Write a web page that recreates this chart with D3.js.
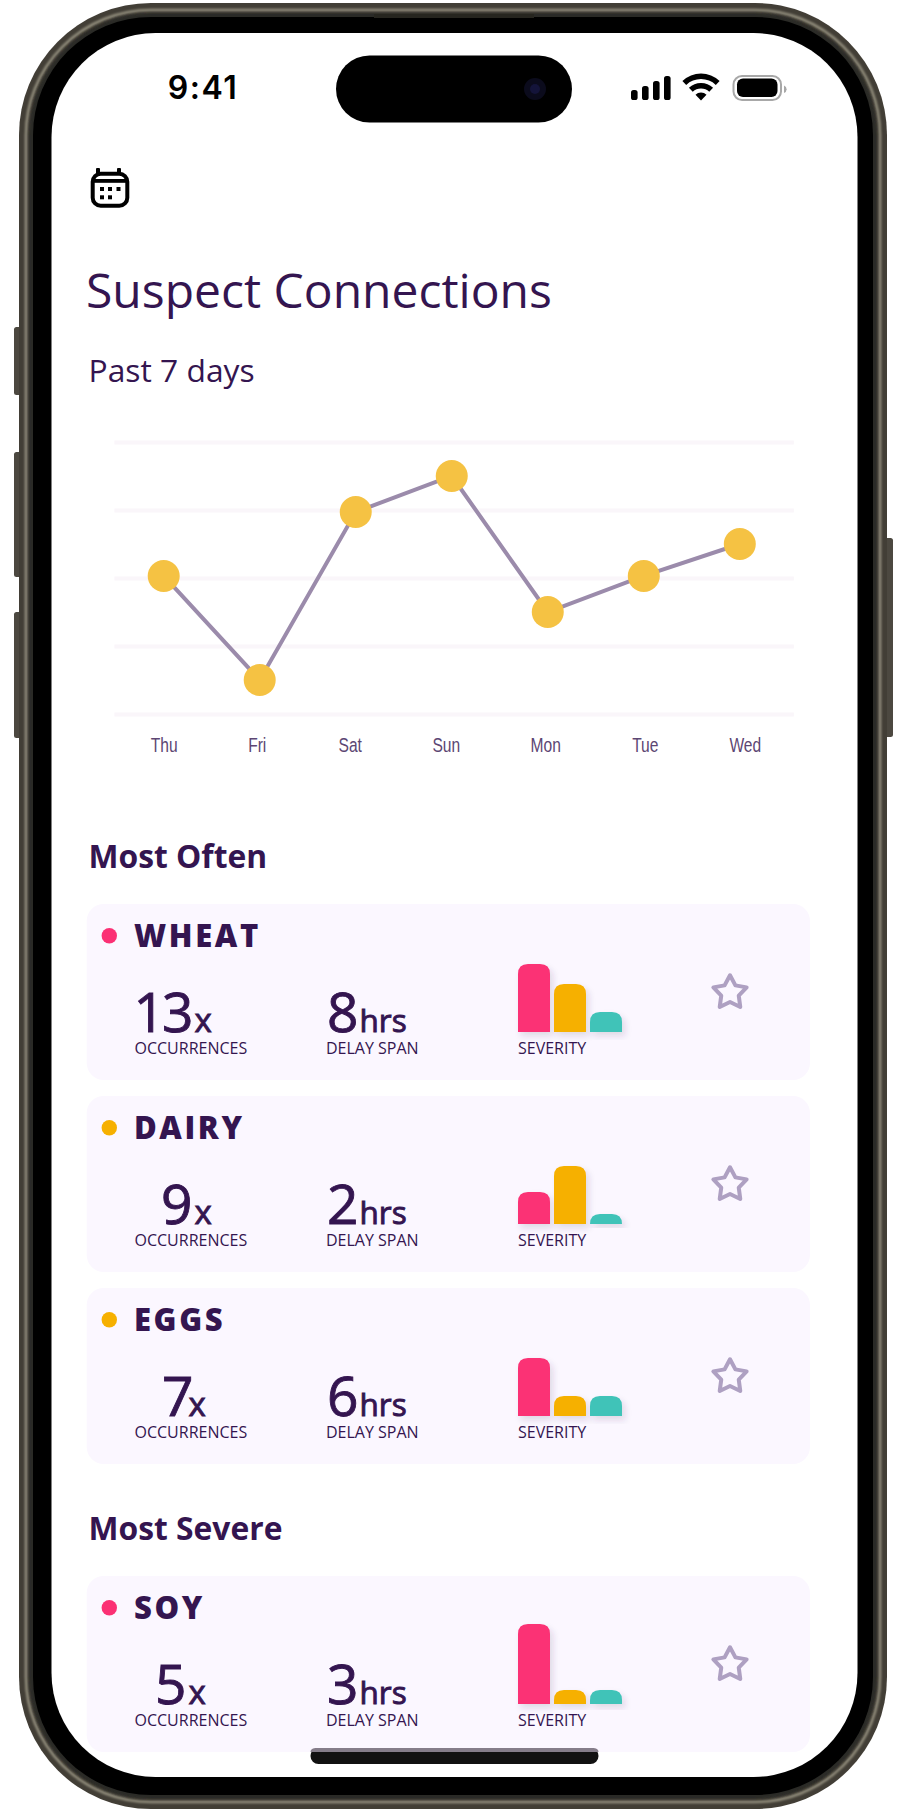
<!DOCTYPE html>
<html><head><meta charset="utf-8">
<script src="https://cdn.jsdelivr.net/npm/d3@7"></script>
<style>
html,body{margin:0;padding:0;background:#fff}
svg{display:block}
text{font-family:"Open Sans",sans-serif;fill:#341550}
</style></head><body>
<div id="chart"></div>
<script>
// ---- data ----
const days = ["Thu","Fri","Sat","Sun","Mon","Tue","Wed"];
const connections = [2.03,0.5,2.97,3.5,1.5,2.03,2.5];
const gridLevels = [0,1,2,3,4];
const foods = ["WHEAT","DAIRY","EGGS","SOY"];
const occurrences = [13,9,7,5];
const delayHours = [8,2,6,3];
const dotLevel = ["high","mid","mid","high"];
const severityLevels = ["high","mid","low"];
const severityHigh = [6.8,3.2,5.8,8];
const severityMid = [4.8,5.8,2,1.4];
const severityLow = [2,1,2,1.4];
const sectionTitles = ["Most Often","Most Severe"];

// ---- layout and style ----
const W=906,H=1812;
const levelColor={high:"#fb3074",mid:"#f6b000",low:"#40c3b8"};
const cardTops=[904,1096,1288,1576];
const numberShift=[0,-1,0,-7];
const unitShift=[0,0,-6,-6];
const labelNudge=[0,-3,-6,-6,-2.5,1,5];
const labelSqueeze=.8;

const svg=d3.select("#chart").append("svg").attr("width",W).attr("height",H).attr("viewBox",`0 0 ${W} ${H}`);
const defs=svg.append("defs");
const blur=(id,s)=>defs.append("filter").attr("id",id).attr("x","-5%").attr("y","-5%").attr("width","110%").attr("height","110%").append("feGaussianBlur").attr("stdDeviation",s);
blur("soft",1.1); blur("soft2",.5);
const sh=defs.append("filter").attr("id","barShadow").attr("x","-30%").attr("y","-30%").attr("width","170%").attr("height","170%");
sh.append("feDropShadow").attr("dx",3).attr("dy",4).attr("stdDeviation",3).attr("flood-color","#3a2060").attr("flood-opacity",.15);

// ---- phone body ----
const frame=svg.append("g");
const btn=[[14,327,68],[14,452,125],[14,612,126],[880,538,199]];
frame.selectAll("rect.btn").data(btn).join("rect").attr("class","btn")
  .attr("x",d=>d[0]).attr("y",d=>d[1]).attr("width",13).attr("height",d=>d[2]).attr("rx",2.5)
  .attr("fill","#4c4840");
const rr=(inset,r)=>frame.append("rect").attr("x",19+inset).attr("y",3+inset).attr("width",868-2*inset).attr("height",1806-2*inset).attr("rx",r).attr("ry",r);
rr(0,132).attr("fill","#423e36");
rr(7,125).attr("fill","none").attr("stroke","#94907f").attr("stroke-width",2.5).attr("filter","url(#soft)");
rr(10,122).attr("fill","#2c2a25").attr("filter","url(#soft)");
rr(14,118).attr("fill","#000");
frame.append("rect").attr("x",51.5).attr("y",33).attr("width",806).attr("height",1744).attr("rx",104).attr("fill","#fff").attr("filter","url(#soft2)");
frame.append("rect").attr("x",374).attr("y",14).attr("width",160).attr("height",4).attr("fill","#26251f");

// ---- status bar ----
const island=svg.append("g");
island.append("rect").attr("x",336).attr("y",55.5).attr("width",236).attr("height",67).attr("rx",33.5).attr("fill","#000");
island.append("circle").attr("cx",535).attr("cy",89).attr("r",11).attr("fill","#0b0b1c");
island.append("circle").attr("cx",535).attr("cy",89).attr("r",5).attr("fill","#14143a");
svg.append("text").attr("x",203).attr("y",99).attr("text-anchor","middle")
  .style("font-family","Inter,Roboto,sans-serif").style("font-weight",600).style("letter-spacing","1.5px").style("font-size","32px").style("fill","#000").text("9:41");
const signalH=[10,14,19,24];
svg.append("g").selectAll("rect").data(signalH).join("rect")
  .attr("x",(d,i)=>631+i*11).attr("y",d=>100-d).attr("width",6.6).attr("height",d=>d).attr("rx",2.6).attr("fill","#000");
const wifi=svg.append("g").attr("transform","translate(701,100.5)");
const arcGen=d3.arc().startAngle(-0.76).endAngle(0.76);
[[0,8],[12,17.5],[21.5,27]].forEach(([a,b])=>{
  wifi.append("path").attr("d",arcGen({innerRadius:a,outerRadius:b})).attr("fill","#000");
});
svg.append("rect").attr("x",733.5).attr("y",76).attr("width",47.5).attr("height",24).attr("rx",8.5).attr("fill","#fff").attr("stroke","#a8a8a8").attr("stroke-width",2);
svg.append("rect").attr("x",737).attr("y",78.5).attr("width",40.5).attr("height",18.5).attr("rx",6).attr("fill","#000");
svg.append("path").attr("d","M784 85.5 a4 4 0 0 1 0 7.5z").attr("fill","#a8a8a8");

// ---- calendar icon ----
const cal=svg.append("g");
cal.append("rect").attr("x",92.7).attr("y",173.7).attr("width",34.6).attr("height",32).attr("rx",8).attr("fill","#fff").attr("stroke","#000").attr("stroke-width",4);
cal.append("rect").attr("x",92.7).attr("y",179).attr("width",34.6).attr("height",3.8).attr("fill","#000");
cal.selectAll("rect.ear").data([98,119]).join("rect").attr("class","ear").attr("x",d=>d-2).attr("y",168).attr("width",4).attr("height",7).attr("rx",1).attr("fill","#000");
cal.selectAll("rect.dot").data([[100,187],[108,187],[116.5,187],[100,195.3],[108,195.3]]).join("rect").attr("class","dot")
  .attr("x",d=>d[0]).attr("y",d=>d[1]).attr("width",4).attr("height",4).attr("fill","#000");

// ---- titles ----
svg.append("text").attr("x",86).attr("y",307.5).style("font-size","48px").style("font-weight",400).text("Suspect Connections");
svg.append("text").attr("x",88.5).attr("y",381.5).style("font-size","31.8px").style("font-weight",400).text("Past 7 days");

// ---- line chart ----
const x=d3.scalePoint().domain(days).range([163.7,739.8]);
const y=d3.scaleLinear().domain([0,4]).range([714,442]);
const gridG=svg.append("g").attr("transform","translate(114.4,0)")
  .call(d3.axisLeft(y).tickValues(gridLevels).tickSize(-679.5).tickFormat(""));
gridG.select(".domain").remove();
gridG.selectAll("line").attr("stroke","#faf6fa").attr("stroke-width",4);

const axisG=svg.append("g").attr("transform","translate(0,732)")
  .call(d3.axisBottom(x).tickSize(0).tickPadding(0));
axisG.select(".domain").remove();
axisG.selectAll("text")
  .attr("y",20).attr("dy",0)
  .attr("transform",(d,i)=>`translate(${labelNudge[i]},0) scale(${labelSqueeze},1)`)
  .style("font-family","'Liberation Sans',sans-serif")
  .style("font-size","19.5px").style("fill","#5c4673");

const points=days.map((d,i)=>({day:d,v:connections[i]}));
svg.append("path").datum(points).attr("fill","none").attr("stroke","#9b8bab").attr("stroke-width",4)
  .attr("d",d3.line().x(d=>x(d.day)).y(d=>y(d.v)));
svg.append("g").selectAll("circle").data(points).join("circle")
  .attr("cx",d=>x(d.day)).attr("cy",d=>y(d.v)).attr("r",16).attr("fill","#f5c243");

// ---- section headings ----
svg.selectAll("text.sec").data(sectionTitles).join("text").attr("class","sec")
  .attr("x",88.5).attr("y",(d,i)=>[867.5,1539.5][i]).style("font-size","31.8px").style("font-weight",700).text(d=>d);

// ---- cards ----
const barX=d3.scaleBand().domain(severityLevels).range([518,622]).paddingInner(4/36);
const barH=d3.scaleLinear().domain([0,8]).range([0,80]);
const starPts=d3.range(10).map(i=>[i*Math.PI/5,i%2?9.2:17.5]);
const star=d3.lineRadial().curve(d3.curveLinearClosed)(starPts);
const topRounded=(x0,w,h,base,r)=>{
  const rad=Math.min(r,h,w/2);
  return `M${x0},${base}V${base-h+rad}Q${x0},${base-h} ${x0+rad},${base-h}H${x0+w-rad}Q${x0+w},${base-h} ${x0+w},${base-h+rad}V${base}Z`;
};
const thicken=s=>s.style("stroke","#341550").style("stroke-width",".9px");
foods.forEach((food,i)=>{
  const g=svg.append("g").attr("transform",`translate(0,${cardTops[i]})`);
  g.append("rect").attr("x",86.7).attr("width",723.3).attr("height",176).attr("rx",17).attr("fill","#fbf7ff");
  g.append("circle").attr("cx",109.3).attr("cy",31.7).attr("r",7.7).attr("fill",levelColor[dotLevel[i]]);
  g.append("text").attr("x",134).attr("y",43.3).style("font-size","31px").style("font-weight",800).style("letter-spacing","2.6px").text(food);
  thicken(g.append("text").attr("x",190.5+numberShift[i]).attr("y",128).attr("text-anchor","end").style("font-size","55px").style("font-weight",500).style("letter-spacing","-3px").text(occurrences[i]));
  thicken(g.append("text").attr("x",194.5+unitShift[i]).attr("y",128).style("font-size","33px").style("font-weight",500).text("x"));
  thicken(g.append("text").attr("x",327).attr("y",128).style("font-size","55px").style("font-weight",500).text(delayHours[i]));
  thicken(g.append("text").attr("x",359.5).attr("y",128).style("font-size","31.5px").style("font-weight",500).text("hrs"));
  g.append("text").attr("x",134.5).attr("y",150).style("font-size","16px").text("OCCURRENCES");
  g.append("text").attr("x",326).attr("y",150).style("font-size","16px").text("DELAY SPAN");
  g.append("text").attr("x",518).attr("y",150).style("font-size","16px").text("SEVERITY");
  const vals=[severityHigh[i],severityMid[i],severityLow[i]];
  g.append("g").selectAll("path").data(severityLevels).join("path")
    .attr("d",(d,k)=>topRounded(barX(d),barX.bandwidth(),barH(vals[k]),128,10))
    .attr("fill",d=>levelColor[d]).attr("filter","url(#barShadow)");
  g.append("path").attr("transform","translate(730,88.8)").attr("d",star)
    .attr("fill","none").attr("stroke","#aea0c2").attr("stroke-width",4).attr("stroke-linejoin","round");
});

// ---- home indicator ----
const hd=svg.append("g");
hd.append("rect").attr("x",310.5).attr("y",1748).attr("width",288).attr("height",16).attr("rx",8).attr("fill","#111");
hd.append("path").attr("d","M310.5 1752 q0 -4 6 -4 h276 q6 0 6 4 z").attr("fill","#857d8a");
</script></body></html>
